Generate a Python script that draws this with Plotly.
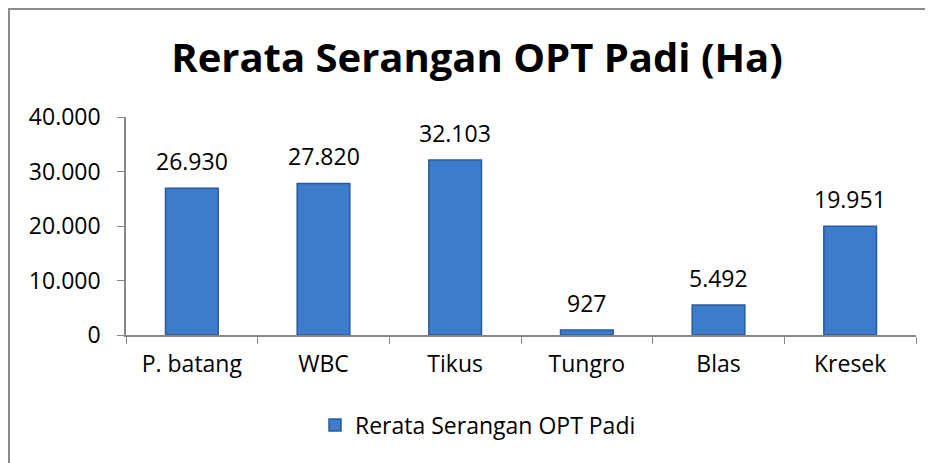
import plotly.graph_objects as go

categories = ["P. batang", "WBC", "Tikus", "Tungro", "Blas", "Kresek"]
values = [26930, 27820, 32103, 927, 5492, 19951]
series_name = "Rerata Serangan OPT Padi"
title_text = "Rerata Serangan OPT Padi (Ha)"
y_ticks = [0, 10000, 20000, 30000, 40000]

FONT = "Open Sans"
FS = 23

# page body has an 8px default margin, so the figure is offset by 8px
W, H = 925, 455
L, T, R, B = 118, 109, 17, 128
PW, PH = W - L - R, H - T - B


def px_x(x):
    return (x - L) / PW


def px_y(y):
    return (T + PH - y) / PH


fig = go.Figure()
fig.add_trace(go.Bar(
    x=categories, y=values, name=series_name,
    marker=dict(color="#3D7CCB", line=dict(color="#2A5B9C", width=1.5)),
    width=0.4, showlegend=True,
))

annotations = [
    dict(x=c, y=v, text=f"{v:,}".replace(",", "."), showarrow=False,
         xref="x", yref="y", yanchor="bottom", yshift=9,
         font=dict(family=FONT, size=FS, color="#000000"))
    for c, v in zip(categories, values)
]

border = dict(color="#8C8C8C", width=2)
fig.update_layout(
    width=W, height=H,
    margin=dict(l=L, r=R, t=T, b=B),
    paper_bgcolor="white", plot_bgcolor="white",
    separators=",.",
    title=dict(text=f"<b>{title_text}</b>", x=469 / W, xanchor="center",
               y=1 - 50 / H, yanchor="middle", yref="container",
               font=dict(family=FONT, size=40, color="#000000")),
    font=dict(family=FONT, size=FS, color="#000000"),
    xaxis=dict(showline=True, linecolor="#868686", linewidth=1.5,
               ticks="outside", tickson="boundaries", ticklen=7, tickcolor="#868686",
               ticklabelstandoff=8,
               tickfont=dict(family=FONT, size=FS, color="#000000"),
               showgrid=False, zeroline=False),
    yaxis=dict(range=[0, 40000], tickvals=y_ticks, tickformat=",d",
               showline=True, linecolor="#868686", linewidth=1.5,
               ticks="outside", ticklen=7, tickcolor="#868686",
               ticklabelstandoff=12,
               tickfont=dict(family=FONT, size=FS, color="#000000"),
               showgrid=False, zeroline=False),
    legend=dict(orientation="h", x=px_x(478 - 8), xanchor="center",
                y=px_y(425 - 8), yanchor="middle",
                font=dict(family=FONT, size=FS, color="#000000")),
    annotations=annotations,
    shapes=[
        dict(type="line", xref="paper", yref="paper",
             x0=px_x(1), x1=px_x(1), y0=px_y(1), y1=px_y(H + 5), line=border),
        dict(type="line", xref="paper", yref="paper",
             x0=px_x(0), x1=px_x(W + 5), y0=px_y(1), y1=px_y(1), line=border),
    ],
)

fig.write_html("out.html")
